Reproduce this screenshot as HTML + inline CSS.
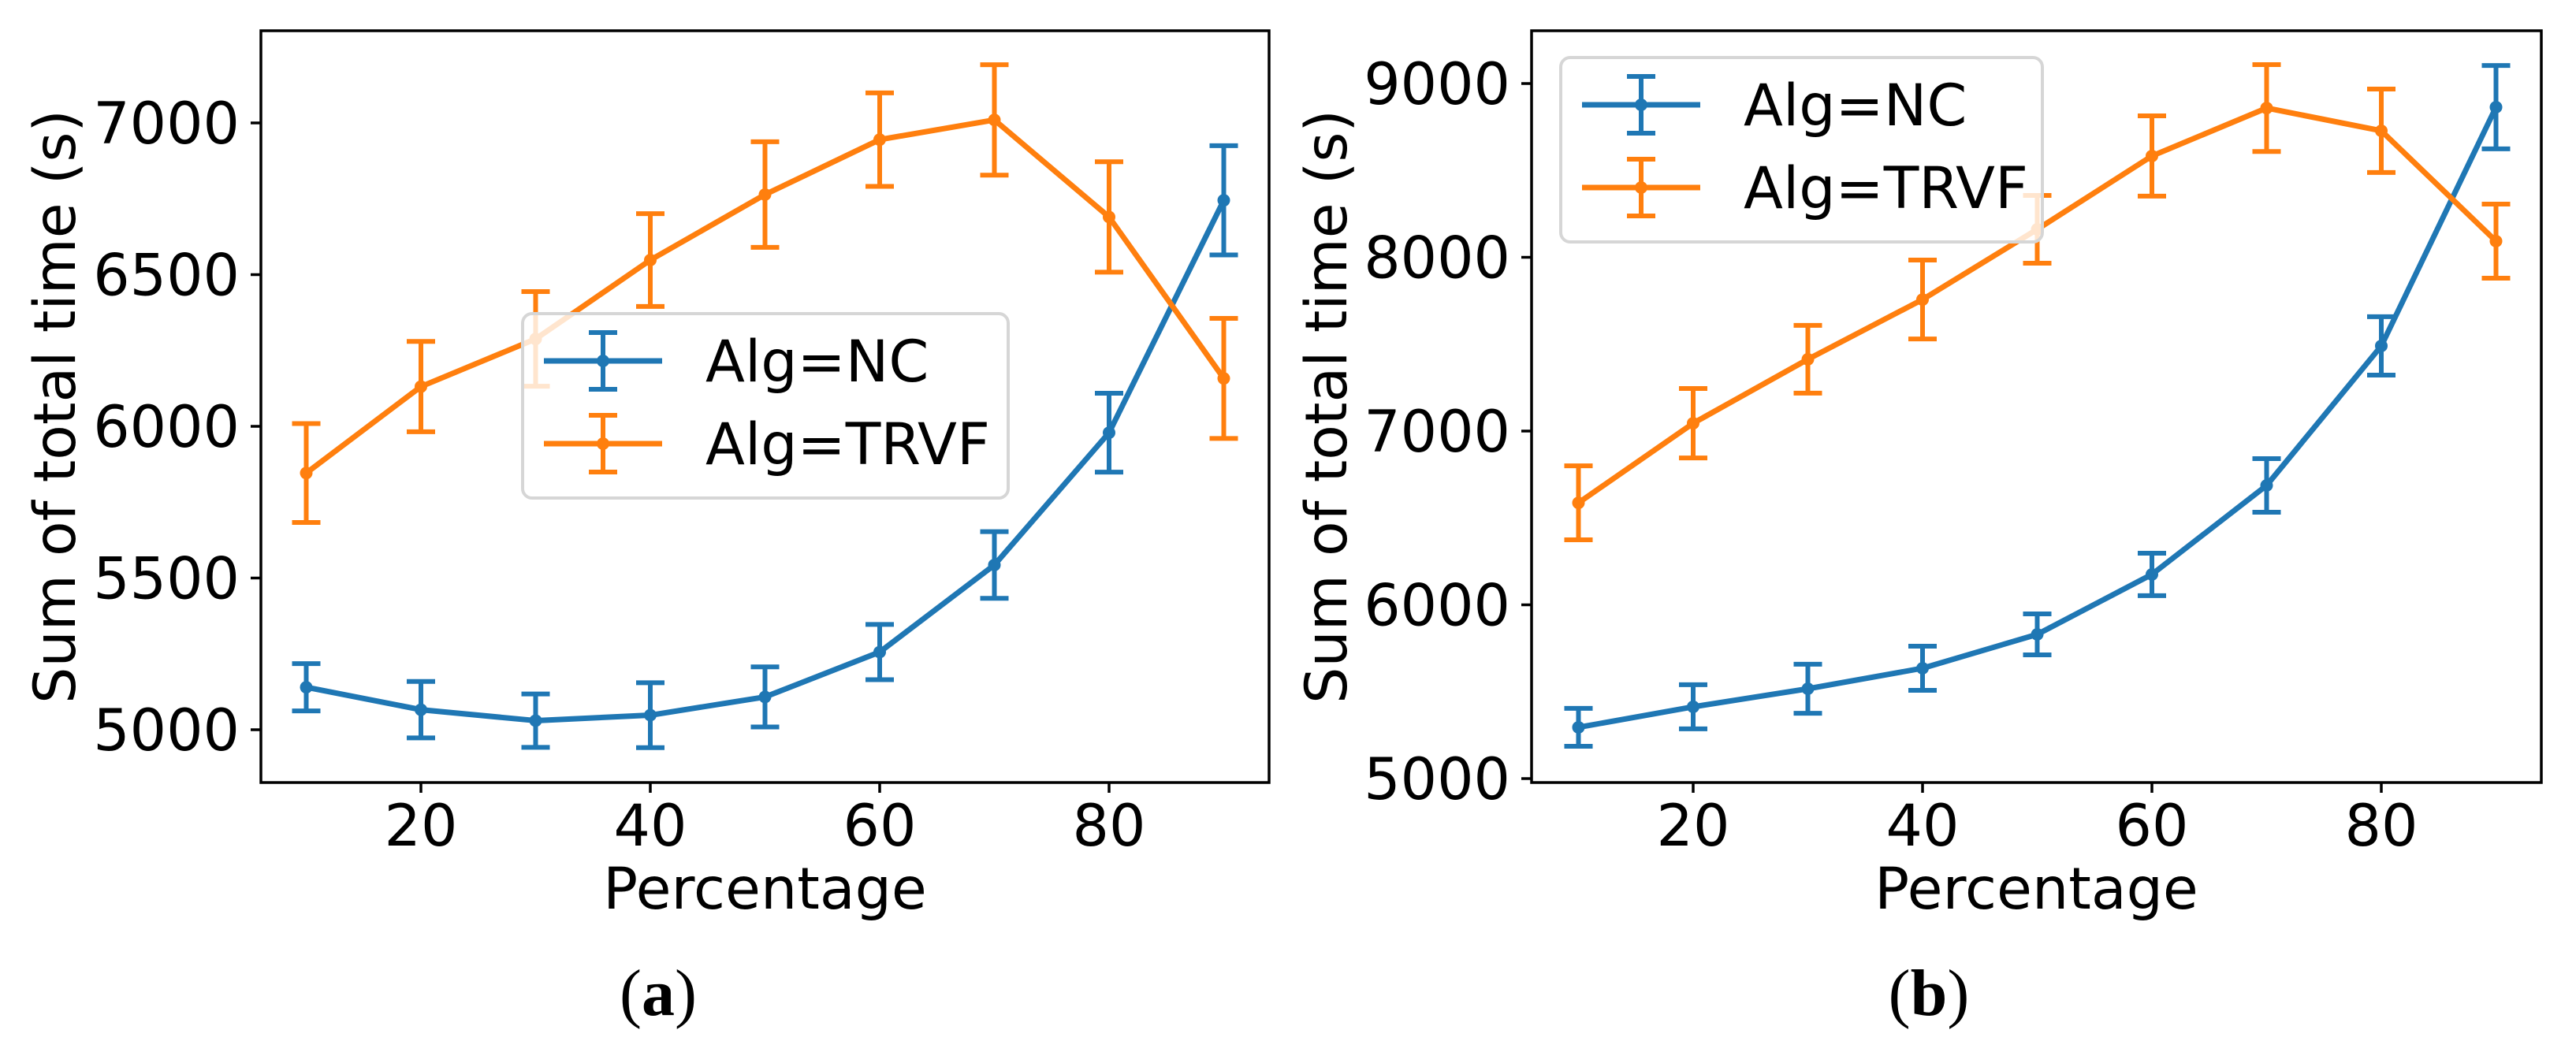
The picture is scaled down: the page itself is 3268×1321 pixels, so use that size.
<!DOCTYPE html>
<html><head><meta charset="utf-8"><style>
html,body{margin:0;padding:0;background:#fff;}
svg{display:block;font-family:"DejaVu Sans","Liberation Sans",sans-serif;}
</style></head><body>
<svg id="fig" width="3268" height="1321" viewBox="0 0 3268 1321" xmlns="http://www.w3.org/2000/svg"></svg>
<script>
const categories = [10,20,30,40,50,60,70,80,90];
const ncA = [5140,5066,5030,5048,5108,5256,5543,5979,6745];
const ncAErr = [78,93,88,107,99,91,110,130,180];
const trvfA = [5846,6131,6288,6548,6764,6945,7010,6690,6158];
const trvfAErr = [163,149,156,153,174,154,182,182,198];
const ncB = [5295,5413,5517,5635,5830,6175,6687,7490,8864];
const ncBErr = [109,127,141,127,118,122,154,168,240];
const trvfB = [6587,7045,7413,7757,8161,8583,8859,8728,8093];
const trvfBErr = [213,200,195,227,195,231,250,240,213];
const xTicks = [20,40,60,80];
const yTicksA = [5000,5500,6000,6500,7000];
const yTicksB = [5000,6000,7000,8000,9000];
const seriesNames = ["Alg=NC","Alg=TRVF"];

const NS="http://www.w3.org/2000/svg";
const svg=document.getElementById('fig');
const BLUE="#1f77b4", ORANGE="#ff7f0e";
function mk(tag,attrs,parent,text){const e=document.createElementNS(NS,tag);for(const k in attrs)e.setAttribute(k,attrs[k]);if(text!==undefined)e.textContent=text;(parent||svg).appendChild(e);return e;}

function panel(cfg){
  const g=mk('g',{});
  
  
  const xs=v=>cfg.x20+(v-20)*14.55;
  const ys=v=>cfg.y0-(v-cfg.v0)*cfg.ppu;
  const series=[[cfg.nc,cfg.ncErr,BLUE,'nc'],[cfg.tr,cfg.trErr,ORANGE,'trvf']];
  series.forEach(([vals,errs,col,key])=>{
    const sg=mk('g',{},g);
    
    
    const pts=categories.map((c,i)=>xs(c)+','+ys(vals[i])).join(' ');
    const pl=mk('polyline',{points:pts,fill:'none',stroke:col,'stroke-width':7,'stroke-linejoin':'round'},sg);
    
    
    categories.forEach((c,i)=>{
      const x=xs(c),yt=ys(vals[i]+errs[i]),yb=ys(vals[i]-errs[i]);
      const eb=mk('path',{d:`M${x},${yt}V${yb}M${x-18},${yt}H${x+18}M${x-18},${yb}H${x+18}`,stroke:col,'stroke-width':6,fill:'none'},sg);
      
      
      const pt=mk('circle',{cx:x,cy:ys(vals[i]),r:8,fill:col},sg);
      
      
    });
  });
  const fr=mk('rect',{x:cfg.L,y:39,width:cfg.R-cfg.L,height:993-39,fill:'none',stroke:'#000','stroke-width':3.5},g);
  
  
  xTicks.forEach(t=>{
    const x=xs(t);
    mk('line',{x1:x,y1:993,x2:x,y2:1006,stroke:'#000','stroke-width':3.5},g);
    const tl=mk('text',{x:x,y:1073,'font-size':73,'text-anchor':'middle'},g,String(t));
    
    
  });
  cfg.yTicks.forEach(t=>{
    const y=ys(t);
    mk('line',{x1:cfg.L-13,y1:y,x2:cfg.L,y2:y,stroke:'#000','stroke-width':3.5},g);
    const tl=mk('text',{x:cfg.L-27,y:y+26,'font-size':73,'text-anchor':'end'},g,String(t));
    
    
  });
  const xl=mk('text',{x:(cfg.L+cfg.R)/2,y:1153,'font-size':73,'text-anchor':'middle'},g,'Percentage');
  
  
  const yl=mk('text',{x:0,y:0,'font-size':73,'text-anchor':'middle',transform:`translate(${cfg.ylx},516) rotate(-90)`},g,'Sum of total time (s)');
  
  
  const lg=mk('g',{},g);
  
  
  mk('rect',{x:cfg.lx,y:cfg.ly,width:cfg.lw,height:234,rx:12,fill:'rgba(255,255,255,0.8)',stroke:'#d6d6d6','stroke-width':4},lg);
  [[BLUE,seriesNames[0],0],[ORANGE,seriesNames[1],1]].forEach(([col,lab,i])=>{
    const ry=cfg.ly+60+i*105;
    const hx=cfg.lx+27;
    const le=mk('g',{},lg);
    
    
    mk('line',{x1:hx,y1:ry,x2:hx+150,y2:ry,stroke:col,'stroke-width':7},le);
    mk('path',{d:`M${hx+75},${ry-36}V${ry+36}M${hx+57},${ry-36}H${hx+93}M${hx+57},${ry+36}H${hx+93}`,stroke:col,'stroke-width':6,fill:'none'},le);
    mk('circle',{cx:hx+75,cy:ry,r:8,fill:col},le);
    mk('text',{x:cfg.lx+232,y:ry+26,'font-size':73},le,lab);
  });
  const cap=mk('text',{x:cfg.capx,y:1288,'font-size':84,'text-anchor':'middle','font-family':'"Liberation Serif",serif'},g);
  
  
  mk('tspan',{},cap,'(');
  mk('tspan',{'font-weight':'bold'},cap,cfg.letter);
  mk('tspan',{},cap,')');
}

panel({name:'panel-a',L:331,R:1610,x20:534,y0:926,v0:5000,ppu:0.385,yTicks:yTicksA,nc:ncA,ncErr:ncAErr,tr:trvfA,trErr:trvfAErr,ylx:95,lx:663,ly:398,lw:616,capx:835,letter:'a'});
panel({name:'panel-b',L:1943,R:3224,x20:2148,y0:988,v0:5000,ppu:0.2205,yTicks:yTicksB,nc:ncB,ncErr:ncBErr,tr:trvfB,trErr:trvfBErr,ylx:1708,lx:1980,ly:73,lw:611,capx:2447,letter:'b'});
</script>
</body></html>
